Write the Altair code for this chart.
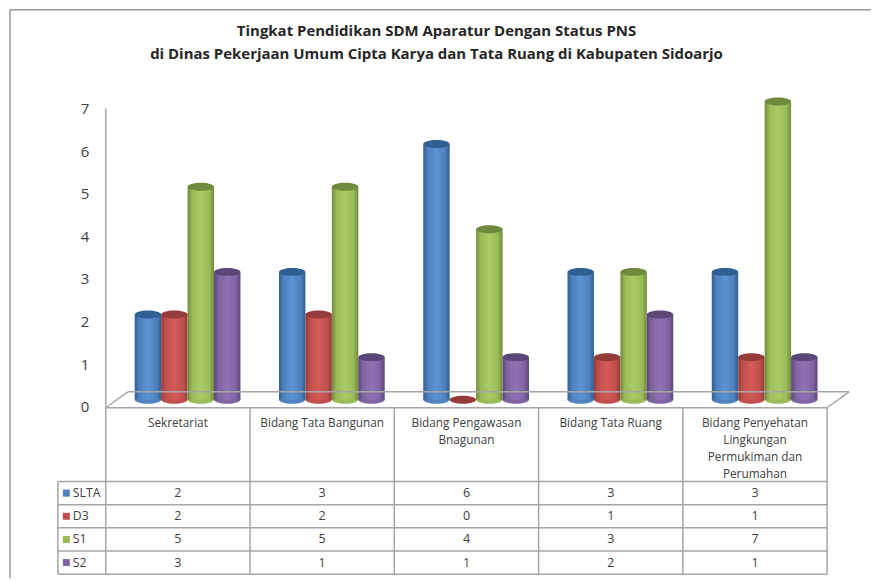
import altair as alt
import pandas as pd

categories = ["Sekretariat", "Bidang Tata Bangunan", "Bidang Pengawasan Bnagunan", "Bidang Tata Ruang",
              "Bidang Penyehatan Lingkungan Permukiman dan Perumahan"]
category_lines = [["Sekretariat"], ["Bidang Tata Bangunan"], ["Bidang Pengawasan", "Bnagunan"], ["Bidang Tata Ruang"],
                  ["Bidang Penyehatan", "Lingkungan", "Permukiman dan", "Perumahan"]]
series = ["SLTA", "D3", "S1", "S2"]
slta = [2, 3, 6, 3, 3]
d3 = [2, 2, 0, 1, 1]
s1 = [5, 5, 4, 3, 7]
s2 = [3, 1, 1, 2, 1]
values = [slta, d3, s1, s2]
base_colors = ["#4F81BD", "#C0504D", "#9BBB59", "#8064A2"]
light_colors = ["#5B93D3", "#D55B57", "#AACB66", "#8F72B4"]
dark_colors = ["#2F5F94", "#943C39", "#6F8A3C", "#5C4778"]
title_lines = ["Tingkat Pendidikan SDM Aparatur Dengan Status PNS",
               "di Dinas Pekerjaan Umum Cipta Karya dan Tata Ruang di Kabupaten Sidoarjo"]

FONT = "Open Sans"
GRID = "#a6a6a6"
W, H = 723, 299
UX = W / 5            # pixels per category
UY = H / 7            # pixels per unit of value
dx = lambda px: px / UX
dy = lambda px: px / UY

x_scale = alt.Scale(domain=[0, 5], nice=False, zero=False)
y_scale = alt.Scale(domain=[0, 7], nice=False, zero=False)
X = lambda f: alt.X(f, type="quantitative", scale=x_scale, axis=None)
Y = lambda f: alt.Y(f, type="quantitative", scale=y_scale,
                    axis=alt.Axis(values=list(range(8)), domain=False, ticks=False, grid=False, title=None,
                                  labelFont=FONT, labelFontSize=15, labelColor="#404040", labelPadding=17))

BAR_W = dx(26.5)
GROUP_LEFT = dx(29)
OFFSET = -7
CYL = "M-1,0A1,0.3 0 1 1 1,0A1,0.3 0 1 1 -1,0Z"
cap_size = 26.5 ** 2

layers = []

# cylinders
for s, name in enumerate(series):
    df = pd.DataFrame({
        "v": values[s],
        "x": [c + GROUP_LEFT + BAR_W * s for c in range(5)],
        "x2": [c + GROUP_LEFT + BAR_W * (s + 1) for c in range(5)],
        "xm": [c + GROUP_LEFT + BAR_W * (s + 0.5) for c in range(5)],
        "zero": 0,
    })
    grad = alt.Gradient(gradient="linear", x1=0, x2=1, y1=0, y2=0, stops=[
        alt.GradientStop(color=dark_colors[s], offset=0),
        alt.GradientStop(color=base_colors[s], offset=0.18),
        alt.GradientStop(color=light_colors[s], offset=0.5),
        alt.GradientStop(color=base_colors[s], offset=0.82),
        alt.GradientStop(color=dark_colors[s], offset=1),
    ])
    body = df[df.v > 0]
    layers.append(alt.Chart(body).mark_point(filled=True, shape=CYL, size=cap_size, opacity=1, yOffset=OFFSET,
                                             color=base_colors[s]).encode(x=X("xm"), y=Y("zero")))
    layers.append(alt.Chart(body).mark_bar(color=grad, yOffset=OFFSET, y2Offset=OFFSET).encode(
        x=X("x"), x2="x2", y=Y("v"), y2="zero"))
    layers.append(alt.Chart(df).mark_point(filled=True, shape=CYL, size=cap_size, opacity=1, yOffset=OFFSET,
                                           color=dark_colors[s]).encode(x=X("xm"), y=Y("v")))

# floor, wall axis, table grid and frame
y_floor = dy(-1)
depth_x, depth_y = dx(22), dy(16)
row_top = dy(-75)
row_h = dy(23.2)
rows_bottom = row_top - 4 * row_h
legend_left = dx(-48)
frame_left, frame_top, frame_right, frame_bottom = dx(-96), 7 + dy(99), dx(767), dy(-172)

segs = [(0, 0, y_floor, 7)]
segs += [(0, 5, y_floor, y_floor), (0, depth_x, y_floor, y_floor + depth_y), (5, 5 + depth_x, y_floor, y_floor + depth_y),
         (depth_x, 5 + depth_x, y_floor + depth_y, y_floor + depth_y)]
segs += [(i, i, y_floor, rows_bottom) for i in range(6)]
segs += [(legend_left, 5, row_top - r * row_h, row_top - r * row_h) for r in range(5)]
segs += [(legend_left, legend_left, row_top, rows_bottom)]
seg_df = pd.DataFrame(segs, columns=["x", "x2", "y", "y2"])
grid_layer = alt.Chart(seg_df).mark_rule(color=GRID, strokeWidth=1.5).encode(x=X("x"), x2="x2", y=Y("y"), y2="y2")

frame_df = pd.DataFrame([(frame_left, frame_right, frame_top, frame_top), (frame_left, frame_left, frame_top, frame_bottom)],
                        columns=["x", "x2", "y", "y2"])
frame_layer = alt.Chart(frame_df).mark_rule(color="#9a9a9a", strokeWidth=1.5).encode(x=X("x"), x2="x2", y=Y("y"), y2="y2")

# category labels
cat_rows = [{"x": c + 0.5, "y": dy(-16 - 17.1 * i), "t": line}
            for c, lines in enumerate(category_lines) for i, line in enumerate(lines)]
cat_layer = alt.Chart(pd.DataFrame(cat_rows)).mark_text(font=FONT, fontSize=11.8, color="#404040", baseline="middle").encode(
    x=X("x"), y=Y("y"), text="t:N")

# data table values
val_rows = [{"x": c + 0.5, "y": row_top - (r + 0.5) * row_h, "t": str(values[r][c])} for r in range(4) for c in range(5)]
val_layer = alt.Chart(pd.DataFrame(val_rows)).mark_text(font=FONT, fontSize=12.5, color="#404040", baseline="middle").encode(
    x=X("x"), y=Y("y"), text="t:N")

# legend keys in the table
leg = pd.DataFrame({"s": series, "y": [row_top - (r + 0.5) * row_h for r in range(4)],
                    "kx": dx(-39.5), "tx": dx(-33)})
key_layer = alt.Chart(leg).mark_square(size=49, opacity=1).encode(
    x=X("kx"), y=Y("y"),
    color=alt.Color("s:N", scale=alt.Scale(domain=series, range=base_colors), legend=None))
leg_text = alt.Chart(leg).mark_text(font=FONT, fontSize=12.3, color="#404040", align="left", baseline="middle").encode(
    x=X("tx"), y=Y("y"), text="s:N")

chart = alt.layer(*layers, grid_layer, frame_layer, cat_layer, val_layer, key_layer, leg_text).properties(
    width=W, height=H, padding={"left": 1, "top": 0, "right": 0, "bottom": 0},
    title=alt.TitleParams(text=title_lines, font=FONT, fontSize=15, fontWeight="bold", color="#262626",
                          anchor="middle", dx=-30, lineHeight=23, offset=-53),
    background="white",
).configure_view(stroke=None)

chart.save("out.html", embed_options={"renderer": "svg", "actions": False})
